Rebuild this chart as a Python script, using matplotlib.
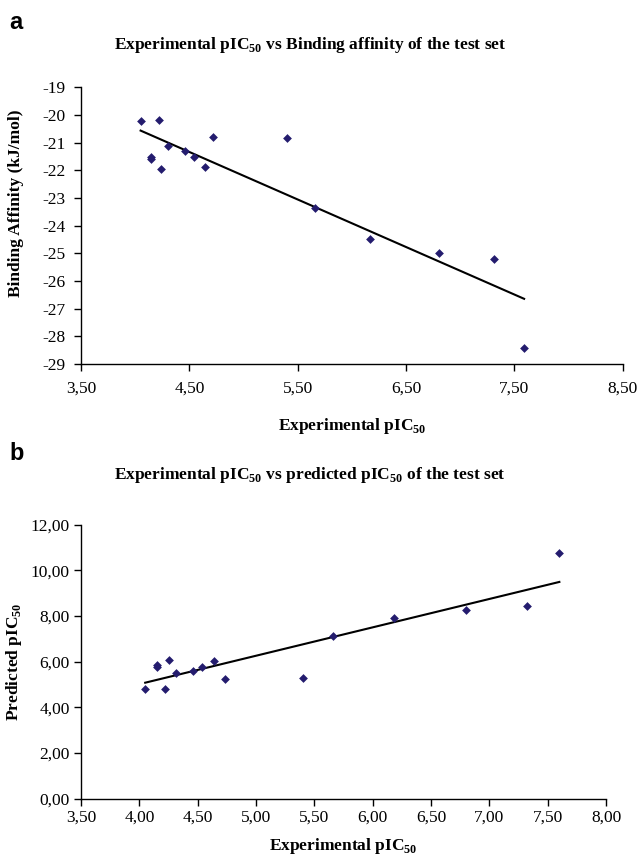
import numpy as np
import matplotlib
matplotlib.use('Agg')
import matplotlib.pyplot as plt
from matplotlib.ticker import FuncFormatter, MultipleLocator, FixedLocator

# panel a data
exp_a = [4.05, 4.22, 4.15, 4.15, 4.24, 4.30, 4.46, 4.54, 4.64, 4.72, 5.40, 5.66, 6.17, 6.80, 7.31, 7.59]
bind_a = [-20.21, -20.18, -21.51, -21.58, -21.95, -21.13, -21.29, -21.51, -21.87, -20.80, -20.82,
          -23.35, -24.49, -24.98, -25.19, -28.42]
xticks_a = [3.5, 4.5, 5.5, 6.5, 7.5, 8.5]

# panel b data
exp_b = [4.05, 4.15, 4.15, 4.25, 4.22, 4.31, 4.46, 4.54, 4.64, 4.73, 5.40, 5.66, 6.18, 6.80, 7.32, 7.60]
pred_b = [4.79, 5.78, 5.85, 6.08, 4.79, 5.51, 5.59, 5.78, 6.05, 5.23, 5.29, 7.11, 7.92, 8.27, 8.44, 10.78]

plt.rcParams['font.family'] = ['Liberation Serif', 'DejaVu Serif']
plt.rcParams['mathtext.fontset'] = 'custom'
plt.rcParams['mathtext.rm'] = 'Liberation Serif'
plt.rcParams['mathtext.bf'] = 'Liberation Serif:bold'

mcol = '#241c6e'

def comma(fmt):
    return FuncFormatter(lambda v, p: (fmt % v).replace('.', ','))

def style(ax):
    for s in ['top', 'right']:
        ax.spines[s].set_visible(False)
    for s in ['left', 'bottom']:
        ax.spines[s].set_linewidth(1.0)
    ax.tick_params(direction='out', length=5, width=1, labelsize=12.5, pad=3)

fig = plt.figure(figsize=(6.39, 8.58), dpi=100)

# ---- panel a
ax1 = fig.add_axes([0.1268, 0.5758, 0.8477, 0.3225])
ax1.scatter(exp_a, bind_a, marker='D', s=20, color=mcol, zorder=3, linewidths=0)
k, b = np.polyfit(exp_a, bind_a, 1)
xx = np.array([min(exp_a), max(exp_a)])
ax1.plot(xx, k * xx + b, color='black', lw=1.5)
ax1.set_xlim(3.5, 8.5)
ax1.set_ylim(-29, -19)
ax1.xaxis.set_major_locator(FixedLocator(xticks_a))
ax1.yaxis.set_major_locator(MultipleLocator(1.0))
ax1.xaxis.set_major_formatter(comma('%.2f'))
ax1.yaxis.set_major_formatter(FuncFormatter(lambda v, p: '%d' % round(v)))
style(ax1)
ax1.tick_params(axis='x', pad=7)
ax1.tick_params(axis='y', pad=6)
ax1.set_xlabel(r'Experimental pIC$_{\mathbf{50}}$', fontsize=12.5, fontweight='bold', labelpad=14)
ax1.set_ylabel('Binding Affinity (kJ/mol)', fontsize=12.5, fontweight='bold')
ax1.yaxis.set_label_coords(-0.105, 0.58)
fig.text(0.485, 0.948, r'Experimental pIC$_{\mathbf{50}}$ vs Binding affinity of the test set',
         ha='center', va='center', fontsize=12.5, fontweight='bold')
fig.text(0.015, 0.974, 'a', fontsize=17, fontweight='bold', family='Liberation Sans', va='center')

# ---- panel b
ax2 = fig.add_axes([0.1268, 0.0691, 0.8216, 0.3193])
ax2.scatter(exp_b, pred_b, marker='D', s=20, color=mcol, zorder=3, linewidths=0)
k2, b2 = np.polyfit(exp_b, pred_b, 1)
xx2 = np.array([min(exp_b), max(exp_b)])
ax2.plot(xx2, k2 * xx2 + b2, color='black', lw=1.5)
ax2.set_xlim(3.5, 8.0)
ax2.set_ylim(0, 12)
ax2.xaxis.set_major_locator(MultipleLocator(0.5))
ax2.yaxis.set_major_locator(MultipleLocator(2.0))
ax2.xaxis.set_major_formatter(comma('%.2f'))
ax2.yaxis.set_major_formatter(comma('%.2f'))
style(ax2)
ax2.set_xlabel(r'Experimental pIC$_{\mathbf{50}}$', fontsize=12.5, fontweight='bold', labelpad=7)
ax2.set_ylabel(r'Predicted pIC$_{\mathbf{50}}$', fontsize=12.5, fontweight='bold')
ax2.yaxis.set_label_coords(-0.109, 0.5)
fig.text(0.485, 0.446, r'Experimental pIC$_{\mathbf{50}}$ vs predicted pIC$_{\mathbf{50}}$ of the test set',
         ha='center', va='center', fontsize=12.5, fontweight='bold')
fig.text(0.015, 0.472, 'b', fontsize=17, fontweight='bold', family='Liberation Sans', va='center')

fig.savefig('out.png', dpi=100)
